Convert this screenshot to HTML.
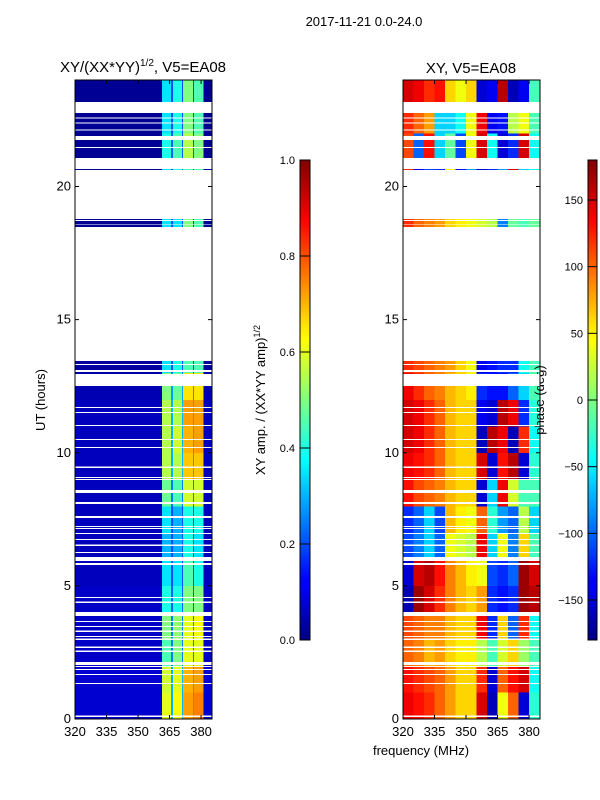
<!DOCTYPE html>
<html><head><meta charset="utf-8"><style>
body{margin:0;background:#fff;}
svg{display:block;font-family:"Liberation Sans","DejaVu Sans",sans-serif;}
</style></head><body>
<svg id="fig" width="600" height="800" viewBox="0 0 600 800" xmlns="http://www.w3.org/2000/svg">
<defs>
<linearGradient id="jet" x1="0" y1="1" x2="0" y2="0">
<stop offset="0" stop-color="#000080"/><stop offset="0.11" stop-color="#0000ff"/><stop offset="0.125" stop-color="#0000ff"/>
<stop offset="0.34" stop-color="#00dcff"/><stop offset="0.375" stop-color="#00ffff"/><stop offset="0.5" stop-color="#80ff80"/>
<stop offset="0.625" stop-color="#ffff00"/><stop offset="0.66" stop-color="#ffe000"/><stop offset="0.875" stop-color="#ff0000"/><stop offset="1" stop-color="#800000"/>
</linearGradient>
</defs>
<text x="364" y="26" font-size="13" text-anchor="middle">2017-11-21 0.0-24.0</text>
<text x="143" y="72" font-size="15" text-anchor="middle">XY/(XX*YY)<tspan font-size="10" dy="-6">1/2</tspan><tspan dy="6">, V5=EA08</tspan></text>
<text x="471" y="73" font-size="15" text-anchor="middle">XY, V5=EA08</text>
<g id="left"></g>
<g id="right"></g>
<text transform="translate(45,400) rotate(-90)" font-size="13" text-anchor="middle">UT (hours)</text>
<text x="421" y="755" font-size="13" text-anchor="middle">frequency (MHz)</text>
<rect x="300" y="160" width="10" height="480" fill="url(#jet)" stroke="#000" stroke-width="1"/>
<rect x="588" y="160" width="9" height="480" fill="url(#jet)" stroke="#000" stroke-width="1"/>
<g id="cb1"></g>
<g id="cb2"></g>
<text transform="translate(265,400) rotate(-90)" font-size="13" text-anchor="middle">XY amp. / (XX*YY amp)<tspan font-size="9" dy="-5">1/2</tspan></text>
<text transform="translate(544,400) rotate(-90)" font-size="13" text-anchor="middle">phase (deg)</text>
</svg>
<script>
const freqTicks=[320,335,350,365,380];
const hourTicks=[0,5,10,15,20];
const ampTicks=[0.0,0.2,0.4,0.6,0.8,1.0];
const phaseTicks=[-150,-100,-50,0,50,100,150];
const ampEdges=[361.4,365.7,366.7,371,371.4,376.2,376.7,381];
const ampBg=[0.08,0.08,0.07,0.07,0.07,0.06,0.06,0.06,0.06,0.06,0.06,0.06,0.05,0.03,null,null,null,null,0.02,null,0.02,0.02,0.02,0.02];
const ampGap=[0.3,0.3,0.25,0.25,0.22,0.2,0.2,0.2,0.25,0.3,0.3,0.3,0.28,0.2,null,null,null,null,0.2,null,0.2,0.22,0.2,0.2];
const ampRows=[
[0.6,0.62,0.72,0.75],[0.58,0.6,0.7,0.72],[0.45,0.5,0.6,0.6],[0.5,0.52,0.6,0.62],
[0.4,0.4,0.5,0.5],[0.35,0.35,0.45,0.4],[0.3,0.3,0.4,0.35],[0.35,0.3,0.4,0.4],
[0.48,0.45,0.58,0.58],[0.55,0.55,0.68,0.68],[0.55,0.58,0.7,0.72],[0.55,0.55,0.72,0.72],
[0.5,0.48,0.65,0.65],[0.35,0.4,0.45,0.45],null,null,null,null,
[0.35,0.35,0.5,0.45],null,[0.35,0.4,0.45,0.45],[0.4,0.45,0.55,0.5],[0.35,0.4,0.5,0.45],[0.35,0.4,0.5,0.45]];
const phaseBins=[320,325,330,335,340,345,350,355,360,365,370,375,380];
const phaseRows=[
[140,130,120,100,80,60,60,150,-160,40,100,-150,-30],
[130,120,110,100,80,60,60,120,-150,100,130,150,-40],
[100,90,70,80,60,50,50,20,-20,30,60,10,-20],
[110,100,90,90,70,60,60,140,-120,60,-100,120,-40],
[-160,170,150,120,90,70,60,80,-120,-130,-120,170,160],
[-150,150,160,130,90,70,50,40,-110,-120,-100,170,150],
[-110,-90,-60,-100,40,30,20,140,-60,40,-90,60,-20],
[-120,-100,-60,-110,70,50,40,100,-30,-80,-100,20,-60],
[130,110,100,90,70,60,60,-150,-60,140,30,-20,-20],
[140,130,120,100,70,60,60,150,-150,130,160,-150,-30],
[150,140,120,100,70,60,60,-160,160,140,-160,120,-40],
[150,140,120,100,70,60,60,-140,-150,160,140,-120,-30],
[140,120,100,90,70,60,50,-120,-130,-130,-100,-60,-20],
[120,110,100,90,80,60,40,-140,-130,-120,-120,-40,-20],
null,null,null,null,
[120,100,90,80,60,50,40,30,20,-90,-10,-20,-10],
null,
[120,-140,-110,-120,50,-130,-80,-150,-120,-80,150,-60,-40],
[110,-100,130,-60,-10,-110,40,150,-40,-150,-120,150,-40],
[120,100,80,-60,-60,-40,40,140,-140,-130,20,40,-20],
[150,140,120,130,60,40,60,-150,-140,160,-160,-140,-20]];
const gapRanges=[[22.76,23.17],[22.55,22.6],[22.36,22.4],[22.1,22.14],[21.74,21.89],[21.44,21.48],[20.65,21.07],[18.78,20.62],[18.7,18.74],[18.57,18.6],[13.44,18.48],[13.29,13.33],[13.03,13.1],[12.5,12.95],[8.49,8.6],[8.07,8.15],[7.55,7.62],[5.93,6.08],[5.78,5.86],[3.87,4.02],[2.03,2.14]];
const thinGaps=[11.68,11.49,11.0,10.48,10.18,9.43,9.05,8.97,7.21,7.13,6.95,6.72,6.5,6.23,4.54,4.36,3.64,3.45,3.27,3.08,2.97,2.67,2.52,1.95,1.84,1.65,1.31,0.08];

const NS='http://www.w3.org/2000/svg';
const FMIN=320,FMAX=385.2,PW=137,TOP=80,BOT=719;
function yS(h){return BOT-h*(BOT-TOP)/24;}
function xS(x0,f){return x0+(f-FMIN)*PW/(FMAX-FMIN);}
function cl(v){return Math.max(0,Math.min(1,v));}
function jet(v){v=cl(v);const r=cl(1.5-Math.abs(4*v-3)),g=cl(1.5-Math.abs(4*v-2)),b=cl(1.5-Math.abs(4*v-1));return `rgb(${Math.round(r*255)},${Math.round(g*255)},${Math.round(b*255)})`;}
function el(tag,attrs,parent){const e=document.createElementNS(NS,tag);for(const k in attrs)e.setAttribute(k,attrs[k]);parent.appendChild(e);return e;}
function cell(g,x0,f0,f1,h,v){
  const r=el('rect',{x:xS(x0,f0),y:yS(h+1),width:xS(x0,f1)-xS(x0,f0)+0.3,height:yS(h)-yS(h+1)+0.3,fill:jet(v),'shape-rendering':'crispEdges'},g);
  
  
}
const L=document.getElementById('left'),R=document.getElementById('right');
for(let h=0;h<24;h++){
  if(ampRows[h]===null)continue;
  cell(L,75,FMIN,FMAX,h,ampBg[h]);
  for(let k=0;k<7;k++){
    const v=(k%2===0)?ampRows[h][k/2]:ampGap[h];
    cell(L,75,ampEdges[k],ampEdges[k+1],h,v);
  }
}
for(let h=0;h<24;h++){
  if(phaseRows[h]===null)continue;
  for(let j=0;j<phaseBins.length;j++){
    const f1=j+1<phaseBins.length?phaseBins[j+1]:FMAX;
    cell(R,403,phaseBins[j],f1,h,(phaseRows[h][j]+180)/360);
  }
}
const svg=document.getElementById('fig');
function gapRect(h0,h1){
  [75,403].forEach(x0=>{
    const r=el('rect',{x:x0,y:yS(h1),width:PW,height:yS(h0)-yS(h1),fill:'#fff','shape-rendering':'crispEdges'},svg);
    
    
  });
}
gapRanges.forEach(g=>gapRect(g[0],g[1]));
thinGaps.forEach(h=>gapRect(h,h+0.045));
[75,403].forEach((x0,i)=>{
  const fr=el('rect',{x:x0,y:TOP,width:PW,height:BOT-TOP,fill:'none',stroke:'#000','stroke-width':1},svg);
  
  
  hourTicks.forEach(h=>{
    const y=yS(h);
    el('line',{x1:x0,y1:y,x2:x0+4,y2:y,stroke:'#000'},svg);
    el('line',{x1:x0+PW-4,y1:y,x2:x0+PW,y2:y,stroke:'#000'},svg);
    const t=el('text',{x:x0-4,y:y+4,'font-size':13,'text-anchor':'end'},svg);
    t.textContent=h;
    
    
  });
  freqTicks.forEach(f=>{
    const x=xS(x0,f);
    el('line',{x1:x,y1:BOT,x2:x,y2:BOT-4,stroke:'#000'},svg);
    el('line',{x1:x,y1:TOP,x2:x,y2:TOP+4,stroke:'#000'},svg);
    const t=el('text',{x:x,y:736,'font-size':13,'text-anchor':'middle'},svg);
    t.textContent=f;
    
    
  });
});
const C1=document.getElementById('cb1'),C2=document.getElementById('cb2');
ampTicks.forEach(v=>{
  const y=640-v*480;
  el('line',{x1:300,y1:y,x2:310,y2:y,stroke:'#000'},C1);
  const t=el('text',{x:295,y:y+4,'font-size':11,'text-anchor':'end'},C1);
  t.textContent=v.toFixed(1);
  
  
});
phaseTicks.forEach(v=>{
  const y=400-v*480/360;
  el('line',{x1:588,y1:y,x2:597,y2:y,stroke:'#000'},C2);
  const t=el('text',{x:583,y:y+4,'font-size':11,'text-anchor':'end'},C2);
  t.textContent=v<0?'\u2212'+(-v):v;
  
  
});
</script>
</body></html>
